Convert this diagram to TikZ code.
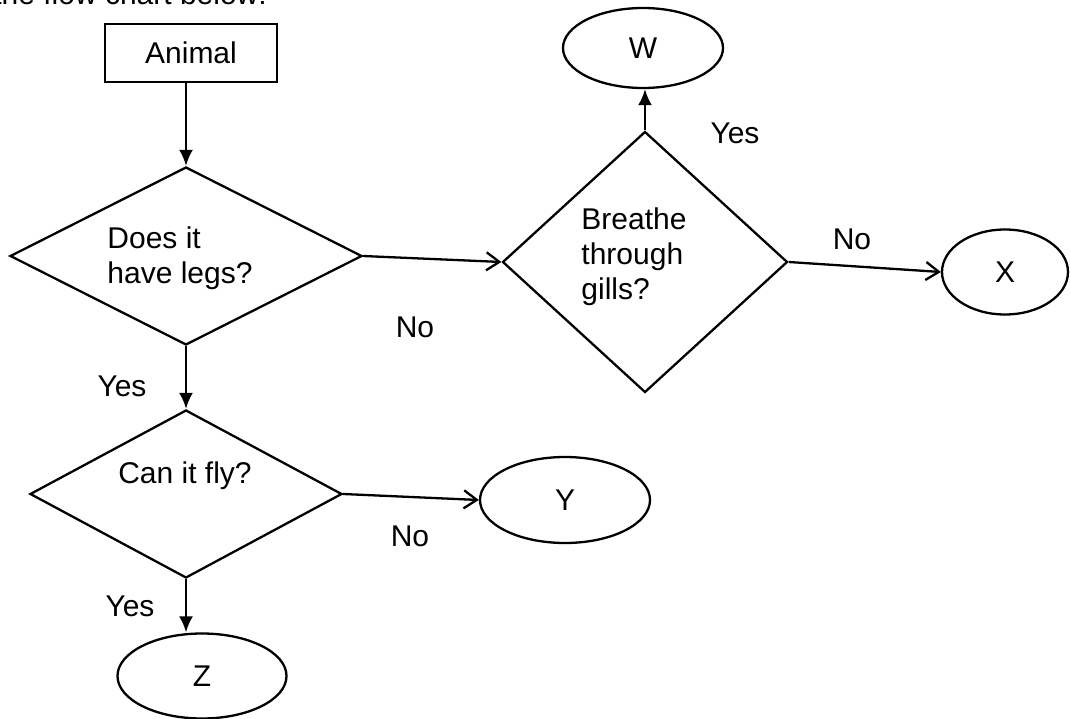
\documentclass[tikz,border=0pt]{standalone}
\usepackage{fontspec}
\setmainfont{Liberation Sans}
\usetikzlibrary{shapes.geometric,arrows.meta}
\begin{document}
\begin{tikzpicture}[x=1pt,y=-1pt,
  every node/.style={font=\fontsize{30}{35}\selectfont, inner sep=0pt},
  box/.style={draw, line width=2.3pt, rectangle},
  dec/.style={draw, line width=2.3pt, diamond},
  term/.style={draw, line width=2.3pt, ellipse},
  txt/.style={align=left},
  lbl/.style={},
  solidarrow/.style={line width=2.3pt, -{Latex[length=16pt,width=14pt]}},
  openarrow/.style={line width=2.3pt, -{Straight Barb[length=13pt,width=18pt,line width=2.3pt]}}
]
\clip (0,0) rectangle (1071,719);
\fill[white] (0,0) rectangle (1071,719);

\node[anchor=base east] (title) at (267,5) {the flow chart below:};

\node[box, minimum width=172pt, minimum height=58pt] (animal) at (191,53) {Animal};

\node[dec, minimum width=352pt, minimum height=178pt] (d1) at (186,256) {};
\node[txt] (d1t) at (180,258) {Does it\\have legs?};

\node[dec, minimum width=285pt, minimum height=261pt] (d2) at (645,262) {};
\node[txt] (d2t) at (634,257) {Breathe\\through\\gills?};

\node[dec, minimum width=312pt, minimum height=168pt] (d3) at (186,494) {};
\node[txt] (d3t) at (185,476) {Can it fly?};

\node[term, minimum width=160pt, minimum height=80pt] (w) at (643,48) {W};
\node[term, minimum width=126pt, minimum height=85pt] (x) at (1005,272) {X};
\node[term, minimum width=170pt, minimum height=86pt] (y) at (565,500) {Y};
\node[term, minimum width=169pt, minimum height=85pt] (z) at (202,676) {Z};

\draw[solidarrow] (d1.north |- animal.south) -- (d1.north);
\draw[openarrow] (d1.east) -- (d2.west);
\draw[solidarrow] (d2.north) -- (d2.north |- w.south);
\draw[openarrow] (d2.east) -- (x.west);
\draw[solidarrow] (d1.south) -- (d1.south |- d3.north);
\draw[openarrow] (d3.east) -- (y.west);
\draw[solidarrow] (d3.south) -- (d3.south |- z.north);

\node[lbl] (l1) at (735,133) {Yes};
\node[lbl] (l2) at (852,239) {No};
\node[lbl] (l3) at (415,327) {No};
\node[lbl] (l4) at (122,386) {Yes};
\node[lbl] (l5) at (410,536) {No};
\node[lbl] (l6) at (130,606) {Yes};
\end{tikzpicture}
\end{document}
